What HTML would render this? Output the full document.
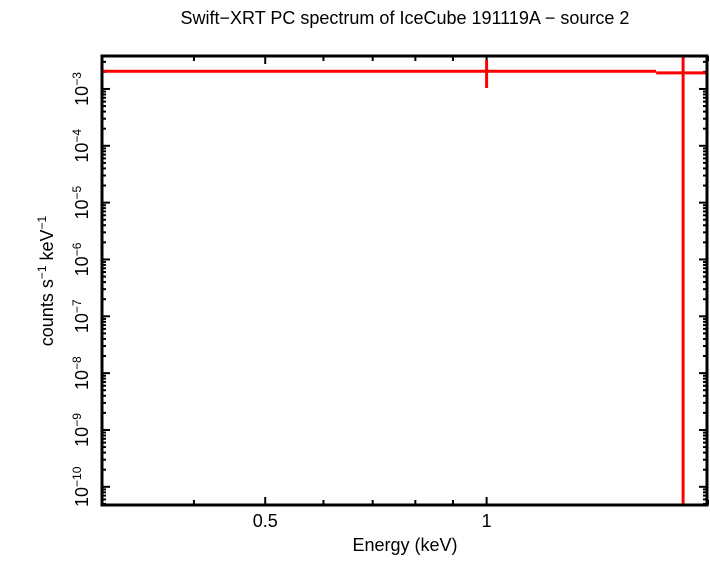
<!DOCTYPE html>
<html><head><meta charset="utf-8"><style>
body{margin:0;background:#fff}
svg text{font-family:"Liberation Sans",sans-serif;fill:#000}
</style></head><body>
<svg id="c" width="710" height="556" viewBox="0 0 710 556">
<text x="405" y="24" font-size="18" text-anchor="middle">Swift−XRT PC spectrum of IceCube 191119A − source 2</text>
<text x="405" y="551" font-size="18" text-anchor="middle">Energy (keV)</text>
<text transform="translate(53,281) rotate(-90)" font-size="18" text-anchor="middle">counts s<tspan font-size="12" dy="-7">−1</tspan><tspan dy="7"> keV</tspan><tspan font-size="12" dy="-7">−1</tspan></text>
<g id="ticks"></g><g id="data"></g>
<rect x="102" y="56" width="605" height="449" fill="none" stroke="#000" stroke-width="3"/>
</svg>
<script>
const xTickLabels=["0.5","1"];
const xTickValues=[0.5,1];
const yDecades=[-3,-4,-5,-6,-7,-8,-9,-10];
const binLo=[0.3,1.70];
const binHi=[1.70,2.05];
const binCenter=[1.0,1.85];
const binY=[2.05e-3,1.92e-3];
const errLo=[1.04e-3,1e-12];
const errHi=[3.2e-3,1];
const X0=101,X1=708,Y0=56,Y1=505;
const lxmin=Math.log10(0.299),lxmax=Math.log10(2.0);
const lymin=-10.32,lymax=-2.42;
function sx(v){return X0+(Math.log10(v)-lxmin)/(lxmax-lxmin)*(X1-X0);}
function sy(v){let l=Math.log10(v);l=Math.max(lymin-0.1,Math.min(lymax+0.1,l));return Y1-(l-lymin)/(lymax-lymin)*(Y1-Y0);}
const NS="http://www.w3.org/2000/svg";
const tg=document.getElementById('ticks'),dg=document.getElementById('data');
function line(g,x1,y1,x2,y2,c,w,name){const l=document.createElementNS(NS,'line');l.setAttribute('x1',x1);l.setAttribute('y1',y1);l.setAttribute('x2',x2);l.setAttribute('y2',y2);l.setAttribute('stroke',c);l.setAttribute('stroke-width',w);


g.appendChild(l);}
for(let v=0.3;v<=2.001;v+=0.1){const vv=Math.round(v*10)/10;if(vv>1&&vv<2)continue;const x=sx(vv);const maj=(vv===0.5||vv===1);const L=maj?8:5;
line(tg,x,Y1,x,Y1-L,'#000',2,'x-tick');line(tg,x,Y0,x,Y0+L,'#000',2,'x-tick-top');}
xTickValues.forEach((v,i)=>{const t=document.createElementNS(NS,'text');t.setAttribute('x',sx(v));t.setAttribute('y',527);t.setAttribute('font-size','18');t.setAttribute('text-anchor','middle');t.textContent=xTickLabels[i];


tg.appendChild(t);});
for(let d=-11;d<=-2;d++){for(let m=1;m<10;m++){const l=d+Math.log10(m);if(l<lymin||l>lymax)continue;const y=Y1-(l-lymin)/(lymax-lymin)*(Y1-Y0);const L=m===1?9:5;
line(tg,X0,y,X0+L,y,'#000',2,'y-tick');line(tg,X1,y,X1-L,y,'#000',2,'y-tick-right');}}
yDecades.forEach(d=>{const y=sy(Math.pow(10,d));const t=document.createElementNS(NS,'text');t.setAttribute('transform','translate(88,'+y+') rotate(-90)');t.setAttribute('font-size','18');t.setAttribute('text-anchor','middle');
t.innerHTML='10<tspan font-size="12" dy="-7">'+String(d).replace('-','−')+'</tspan>';


tg.appendChild(t);});
binY.forEach((v,i)=>{const y=sy(v);
line(dg,Math.max(X0,sx(binLo[i])),y,Math.min(X1,sx(binHi[i])),y,'#f00',3,'data-bin-'+i);
const x=sx(binCenter[i]);
line(dg,x,Math.min(Y1,sy(errLo[i])),x,Math.max(Y0,sy(errHi[i])),'#f00',3,'error-bar-'+i);});
</script>
</body></html>
